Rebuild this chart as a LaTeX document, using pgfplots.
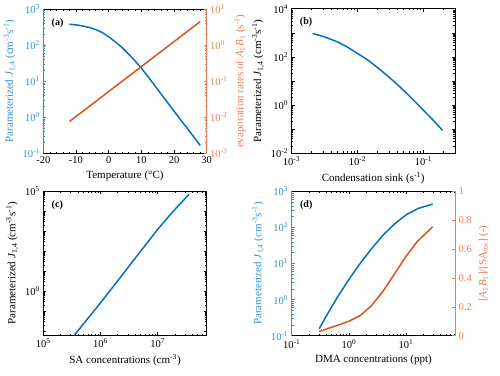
\documentclass[border=0pt]{standalone}
\usepackage{fontspec}
\setmainfont{Liberation Serif}
\usepackage{pgfplots}
\pgfplotsset{compat=1.18}
\definecolor{lblue}{RGB}{0,114,189}
\definecolor{lorange}{RGB}{217,83,25}
\definecolor{ablue}{RGB}{45,145,215}
\definecolor{aorange}{RGB}{232,125,85}
\newcommand{\tp}[1]{10\textsuperscript{#1}}
\newcommand{\Jlab}{Parameterized \textit{J}\textsubscript{1,4} (cm\textsuperscript{-3}s\textsuperscript{-1})}
\tikzset{panel/.style={font=\bfseries\fontsize{10}{12}\selectfont, anchor=west}}
\pgfplotsset{
  base/.style={
    scale only axis, width=163.4pt, height=144.3pt,
    anchor=south west,
    tick align=inside,
    major tick length=3pt, minor tick length=1.8pt,
    tick label style={font=\fontsize{10.5}{12}\selectfont},
    label style={font=\fontsize{11}{13}\selectfont},
    /pgf/number format/assume math mode=true,
    axis line style={line width=0.5pt},
    every tick/.style={line width=0.45pt},
  },
}
\begin{document}
\begin{tikzpicture}
\useasboundingbox (0,0) rectangle (500pt,375pt);
% ---------------- (a) ----------------
\begin{axis}[base, at={(43.3pt,221.7pt)},
  xmin=-20, xmax=30, xtick={-20,-10,0,10,20,30}, minor x tick num=4,
  ymode=log, ymin=0.1, ymax=1000,
  axis x line*=box, axis y line*=left,
  ytick={0.1,1,10,100,1000},
  yticklabels={\tp{-1},\tp{0},\tp{1},\tp{2},\tp{3}},
  minor ytick={0.2,0.3,0.4,0.5,0.6,0.7,0.8,0.9,2,3,4,5,6,7,8,9,20,30,40,50,60,70,80,90,200,300,400,500,600,700,800,900},
  y axis line style={ablue, line width=1pt},
  ytick style={ablue}, minor y tick style={ablue},
  yticklabel style={text=ablue},
  ylabel={\Jlab}, ylabel style={text=ablue},
  xlabel={Temperature (°C)},
]
\addplot[lblue, line width=1.5pt] coordinates {
(-12,380) (-10,363) (-8,339) (-6,309) (-4,269) (-2,224) (0,170) (2,123) (4,87.1) (6,57.5) (8,37.2) (10,22.9) (12,13.5) (14,7.76) (16,4.47) (18,2.57) (20,1.48) (22,0.851) (24,0.501) (26,0.288) (28,0.166)};
\node[panel] at (rel axis cs:0.03,0.905) {(a)};
\end{axis}
\begin{axis}[base, at={(43.3pt,221.7pt)},
  xmin=-20, xmax=30, axis x line=none, axis y line*=right,
  ymode=log, ymin=0.001, ymax=10,
  ytick={0.001,0.01,0.1,1,10},
  yticklabels={\tp{-3},\tp{-2},\tp{-1},\tp{0},\tp{1}},
  minor ytick={0.002,0.003,0.004,0.005,0.006,0.007,0.008,0.009,0.02,0.03,0.04,0.05,0.06,0.07,0.08,0.09,0.2,0.3,0.4,0.5,0.6,0.7,0.8,0.9,2,3,4,5,6,7,8,9},
  y axis line style={aorange, line width=1pt},
  ytick style={aorange}, minor y tick style={aorange},
  yticklabel style={text=aorange},
  ylabel={evaporation rates of \textit{A}\textsubscript{1}\textit{B}\textsubscript{1} (s\textsuperscript{-1})},
  ylabel style={text=aorange},
]
\addplot[lorange, line width=1.5pt] coordinates {
(-12,0.00759) (-8,0.01436) (-4,0.02716) (0,0.0514) (4,0.0973) (8,0.184) (12,0.348) (16,0.659) (20,1.247) (24,2.36) (28,4.47)};
\end{axis}
% ---------------- (b) ----------------
\begin{axis}[base, at={(291.5pt,222pt)},
  xmode=log, ymode=log, xmin=0.001, xmax=0.3, ymin=0.01, ymax=10000,
  xtick={0.001,0.01,0.1}, xticklabels={\tp{-3},\tp{-2},\tp{-1}},
  minor xtick={0.002,0.003,0.004,0.005,0.006,0.007,0.008,0.009,0.02,0.03,0.04,0.05,0.06,0.07,0.08,0.09,0.2,0.3},
  ytick={0.01,0.1,1,10,100,1000,10000},
  yticklabels={\tp{-2},,\tp{0},,\tp{2},,\tp{4}},
  minor ytick={0.02,0.03,0.04,0.05,0.06,0.07,0.08,0.09,0.2,0.3,0.4,0.5,0.6,0.7,0.8,0.9,2,3,4,5,6,7,8,9,20,30,40,50,60,70,80,90,200,300,400,500,600,700,800,900,2000,3000,4000,5000,6000,7000,8000,9000},
  xlabel={Condensation sink (s\textsuperscript{-1})},
  ylabel={\Jlab},
]
\addplot[lblue, line width=1.5pt] coordinates {
(0.0021,933) (0.00316,676) (0.005,417) (0.00708,251) (0.01,138) (0.0141,75.9) (0.02,36.3) (0.0282,16.6) (0.0398,7.24) (0.0562,2.95) (0.0794,1.15) (0.1,0.603) (0.141,0.229) (0.195,0.0871)};
\node[panel] at (rel axis cs:0.03,0.905) {(b)};
\end{axis}
% ---------------- (c) ----------------
\begin{axis}[base, at={(43.3pt,39.7pt)},
  xmode=log, ymode=log, xmin=1e5, xmax=7.2e7, ymin=0.006, ymax=1e5,
  xtick={1e5,1e6,1e7}, xticklabels={\tp{5},\tp{6},\tp{7}},
  minor xtick={2e5,3e5,4e5,5e5,6e5,7e5,8e5,9e5,2e6,3e6,4e6,5e6,6e6,7e6,8e6,9e6,2e7,3e7,4e7,5e7,6e7,7e7},
  ytick={0.01,0.1,1,10,100,1000,10000,100000},
  yticklabels={,,\tp{0},,,,,\tp{5}},
  minor ytick={},
  xlabel={SA concentrations (cm\textsuperscript{-3})},
  ylabel={\Jlab},
]
\addplot[lblue, line width=1.5pt] coordinates {
(3.47e5,0.00603) (1e6,0.251) (2e6,3.2) (3.16e6,17.4) (5.62e6,145) (1e7,1202) (1.78e7,8318) (3.55e7,69200)};
\node[panel] at (rel axis cs:0.03,0.905) {(c)};
\end{axis}
% ---------------- (d) ----------------
\begin{axis}[base, at={(291.7pt,39.3pt)},
  xmode=log, xmin=0.1, xmax=72,
  xtick={0.1,1,10}, xticklabels={\tp{-1},\tp{0},\tp{1}},
  minor xtick={0.2,0.3,0.4,0.5,0.6,0.7,0.8,0.9,2,3,4,5,6,7,8,9,20,30,40,50,60,70},
  ymode=log, ymin=0.1, ymax=1000,
  axis x line*=box, axis y line*=left,
  ytick={0.1,1,10,100,1000},
  yticklabels={\tp{-1},\tp{0},\tp{1},\tp{2},\tp{3}},
  minor ytick={0.2,0.3,0.4,0.5,0.6,0.7,0.8,0.9,2,3,4,5,6,7,8,9,20,30,40,50,60,70,80,90,200,300,400,500,600,700,800,900},
  y axis line style={ablue, line width=1pt},
  ytick style={ablue}, minor y tick style={ablue},
  yticklabel style={text=ablue},
  ylabel={\Jlab}, ylabel style={text=ablue},
  xlabel={DMA concentrations (ppt)},
]
\addplot[lblue, line width=1.5pt] coordinates {
(0.302,0.155) (0.398,0.339) (0.631,1.175) (1,3.63) (1.585,10.2) (2.512,26.3) (3.98,61.7) (6.31,126) (10,224) (15.85,331) (29.2,447)};
\node[panel] at (rel axis cs:0.03,0.905) {(d)};
\end{axis}
\begin{axis}[base, at={(291.7pt,39.3pt)},
  xmode=log, xmin=0.1, xmax=72, axis x line=none, axis y line*=right,
  ymin=0, ymax=1, ytick={0,0.2,0.4,0.6,0.8,1},
  y axis line style={aorange, line width=1pt},
  ytick style={aorange},
  yticklabel style={text=aorange},
  ylabel={[\textit{A}\textsubscript{1}\textit{B}\textsubscript{1}]/[SA\textsubscript{tot}] (-)},
  ylabel style={text=aorange},
]
\addplot[lorange, line width=1.5pt] coordinates {
(0.302,0.03) (0.398,0.045) (0.631,0.072) (1,0.10) (1.585,0.14) (2.512,0.21) (3.98,0.31) (6.31,0.43) (10,0.55) (15.85,0.655) (29.2,0.755)};
\end{axis}
\end{tikzpicture}
\end{document}
